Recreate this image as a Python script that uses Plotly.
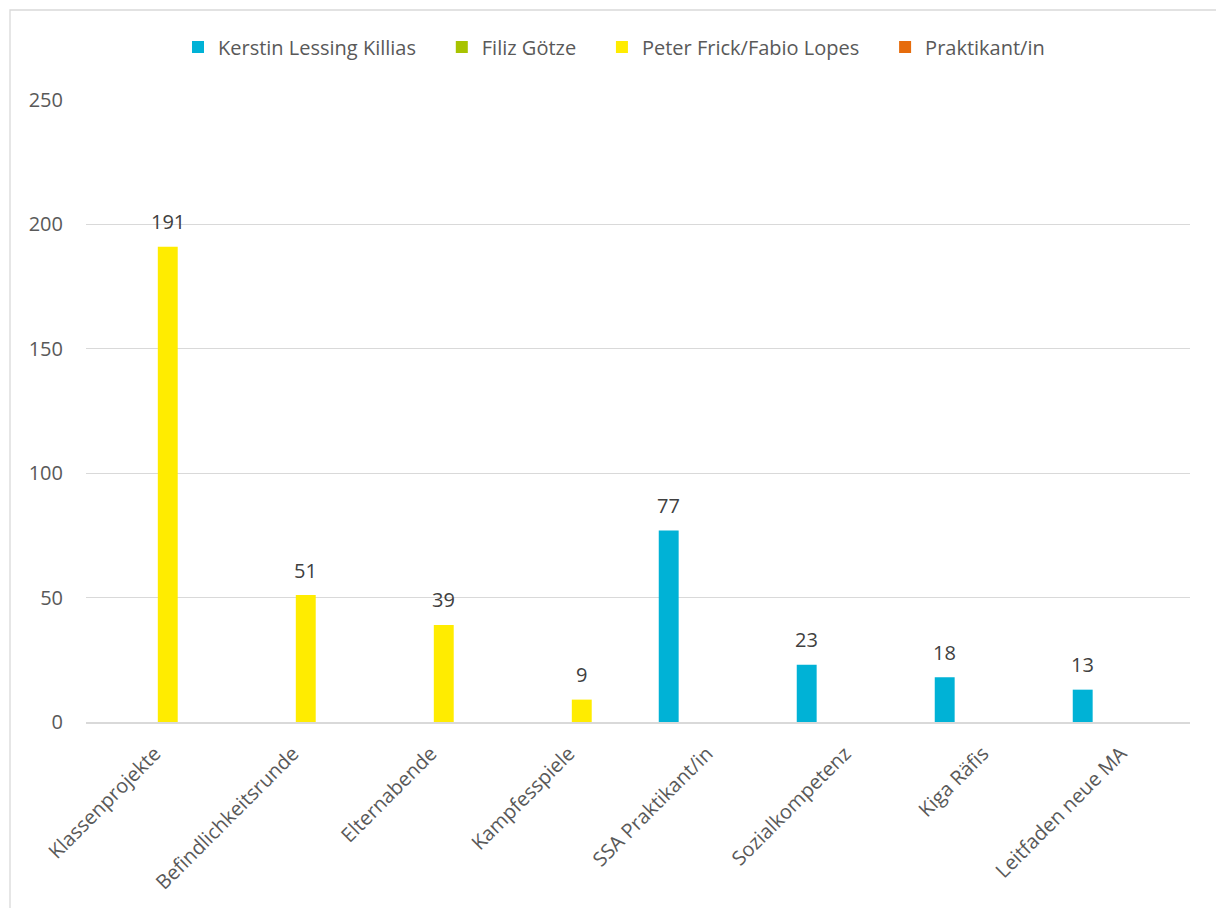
import plotly.graph_objects as go

# Categories and hours per person
categories = [
    "Klassenprojekte", "Befindlichkeitsrunde", "Elternabende", "Kampfesspiele",
    "SSA Praktikant/in", "Sozialkompetenz", "Kiga Räfis", "Leitfaden neue MA",
]
series_names = ["Kerstin Lessing Killias", "Filiz Götze", "Peter Frick/Fabio Lopes", "Praktikant/in"]
kerstin = [None, None, None, None, 77, 23, 18, 13]
filiz = [None] * 8
peter_fabio = [191, 51, 39, 9, None, None, None, None]
praktikant = [None] * 8
series_values = [kerstin, filiz, peter_fabio, praktikant]
series_colors = ["#00B2D6", "#A8C300", "#FFEC00", "#E66C0C"]

y_ticks = [0, 50, 100, 150, 200, 250]

# Layout geometry
W, H = 1216, 908
M_L, M_R, M_T, M_B = 86, 26, 100, 186
plot_w = W - M_L - M_R
plot_h = H - M_T - M_B
cat_px = plot_w / len(categories)

group_width = 0.74
slot = group_width / len(series_names)
bar_w = slot * 0.78

TEXT = "#595959"
FONT = "'Open Sans', sans-serif"
FS = 20
LEGEND_PAD = "\u00a0" * 4  # extra room between legend entries

fig = go.Figure()
annotations = []
for i, (name, vals, col) in enumerate(zip(series_names, series_values, series_colors)):
    off = -group_width / 2 + i * slot + (slot - bar_w) / 2
    fig.add_trace(go.Bar(
        name=name + LEGEND_PAD, x=categories, y=vals,
        offset=off, width=bar_w,
        marker=dict(color=col, line=dict(width=0)),
    ))
    center_shift = (off + bar_w / 2) * cat_px
    for c, v in zip(categories, vals):
        if v:
            annotations.append(dict(
                x=c, y=v, xref="x", yref="y", text=str(v), showarrow=False,
                xshift=center_shift, yshift=25, yanchor="middle",
                font=dict(family=FONT, size=FS, color="#404040"),
            ))

# Outer chart frame
frame_x0 = (10 - M_L) / plot_w
frame_y1 = (H - M_B - 10) / plot_h

fig.update_layout(
    width=W, height=H,
    margin=dict(l=M_L, r=M_R, t=M_T, b=M_B),
    paper_bgcolor="white", plot_bgcolor="white",
    barmode="overlay",
    font=dict(family=FONT, size=FS, color=TEXT),
    showlegend=True,
    legend=dict(
        orientation="h", x=(178 - M_L) / plot_w, xanchor="left",
        y=(H - M_B - 47) / plot_h, yanchor="middle",
        font=dict(family=FONT, size=FS, color=TEXT),
        itemwidth=30, traceorder="normal",
    ),
    annotations=annotations,
    shapes=[dict(
        type="rect", xref="paper", yref="paper",
        x0=frame_x0, x1=1.2, y0=-0.5, y1=frame_y1,
        line=dict(color="#D9D9D9", width=1.3), fillcolor="rgba(0,0,0,0)", layer="below",
    )],
)
fig.update_xaxes(
    type="category", categoryorder="array", categoryarray=categories,
    tickangle=-45, showgrid=False, showline=True, linecolor="#D9D9D9", linewidth=2,
    ticks="", ticklabelstandoff=10,
    tickfont=dict(family=FONT, size=FS, color=TEXT),
)
fig.update_yaxes(
    range=[0, 250], tickvals=y_ticks, showgrid=True, gridcolor="#D9D9D9", gridwidth=1.3,
    zeroline=False, showline=False, ticks="", ticklabelstandoff=22,
    tickfont=dict(family=FONT, size=FS, color=TEXT),
)

fig.write_html("out.html")
